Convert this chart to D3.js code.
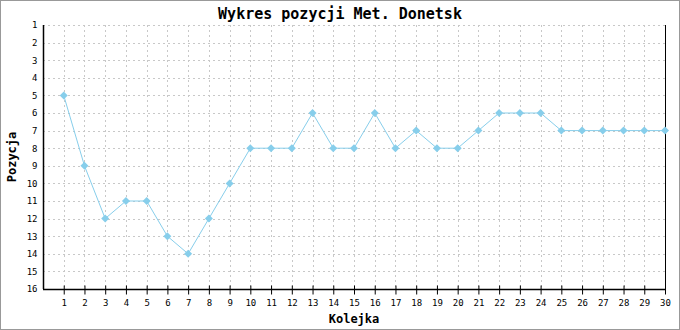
<!DOCTYPE html>
<html>
<head>
<meta charset="utf-8">
<script src="https://cdn.jsdelivr.net/npm/d3@7"></script>
<style>
  body { margin: 0; background: #fff; }
  svg { display: block; }
</style>
</head>
<body>
<svg id="chart" width="680" height="330"></svg>
<script>
// data
var rounds = d3.range(1, 31);
var positions = [5, 9, 12, 11, 11, 13, 14, 12, 10, 8, 8, 8, 6, 8, 8, 6, 8, 7, 8, 8, 7, 6, 6, 6, 7, 7, 7, 7, 7, 7];
var yTicks = d3.range(1, 17);
var titleText = "Wykres pozycji Met. Donetsk";
var xTitle = "Kolejka";
var yTitle = "Pozycja";

var svg = d3.select("#chart");
var W = 680, H = 330;
var font = "'DejaVu Sans Mono', 'Liberation Mono', monospace";
var col = "#87ceeb";

// frame
svg.append("rect")
  .attr("x", 0.5).attr("y", 0.5)
  .attr("width", W - 1).attr("height", H - 1)
  .attr("fill", "#fff").attr("stroke", "#999");

var margin = {top: 25, right: 15, bottom: 41, left: 43};

var x = d3.scaleLinear()
  .domain([0, 30])
  .range([margin.left, W - margin.right]);

var y = d3.scaleLinear()
  .domain([1, 16])
  .range([margin.top, H - margin.bottom]);

// grid
var grid = svg.append("g")
  .attr("stroke", "#c8c8c8")
  .attr("stroke-dasharray", "2,3")
  .attr("shape-rendering", "crispEdges");

grid.selectAll(".hg")
  .data(yTicks.slice(0, -1))
  .enter().append("line")
    .attr("x1", x(0)).attr("x2", x(30))
    .attr("y1", function (d) { return Math.round(y(d)) + 0.5; })
    .attr("y2", function (d) { return Math.round(y(d)) + 0.5; });

grid.selectAll(".vg")
  .data(rounds.slice(0, -1))
  .enter().append("line")
    .attr("y1", y(1)).attr("y2", y(16))
    .attr("x1", function (d) { return Math.round(x(d)) + 0.5; })
    .attr("x2", function (d) { return Math.round(x(d)) + 0.5; });

// x axis (ticks cross the line)
var xAxis = svg.append("g")
  .attr("transform", "translate(0," + (Math.round(y(16)) + 0.5) + ")")
  .call(d3.axisBottom(x).tickValues(rounds).tickSize(0).tickPadding(10));
xAxis.select(".domain").remove();
xAxis.append("line")
  .attr("x1", x(0)).attr("x2", x(30))
  .attr("stroke", "#000").attr("stroke-width", 1.5);
xAxis.selectAll(".tick").append("line")
  .attr("y1", -4).attr("y2", 5)
  .attr("stroke", "#000");
xAxis.selectAll("text")
  .attr("font-family", font)
  .attr("font-size", 9)
  .attr("fill", "#000");

// y axis
var yAxis = svg.append("g")
  .attr("transform", "translate(" + (Math.round(x(0)) + 0.5) + ",0)")
  .call(d3.axisLeft(y).tickValues(yTicks).tickSize(0).tickPadding(6));
yAxis.select(".domain").remove();
yAxis.append("line")
  .attr("y1", y(1)).attr("y2", y(16))
  .attr("stroke", "#000").attr("stroke-width", 1.5);
yAxis.selectAll("text")
  .attr("font-family", font)
  .attr("font-size", 9)
  .attr("fill", "#000");

// right border line
svg.append("line")
  .attr("x1", Math.round(x(30)) + 0.5).attr("x2", Math.round(x(30)) + 0.5)
  .attr("y1", y(1)).attr("y2", y(16))
  .attr("stroke", "#000");

// series line
var line = d3.line()
  .x(function (d, i) { return x(rounds[i]); })
  .y(function (d) { return y(d); });

svg.append("path")
  .datum(positions)
  .attr("d", line)
  .attr("fill", "none")
  .attr("stroke", col)
  .attr("stroke-width", 1);

// diamond markers
svg.selectAll(".dot")
  .data(positions)
  .enter().append("path")
    .attr("class", "dot")
    .attr("transform", function (d, i) { return "translate(" + x(rounds[i]) + "," + y(d) + ")"; })
    .attr("d", "M0,-4L4,0L0,4L-4,0Z")
    .attr("fill", col);

// titles
svg.append("text")
  .attr("x", W / 2).attr("y", 19)
  .attr("text-anchor", "middle")
  .attr("font-family", font)
  .attr("font-weight", "bold")
  .attr("font-size", 15)
  .text(titleText);

svg.append("text")
  .attr("x", (x(0) + x(30)) / 2).attr("y", 323)
  .attr("text-anchor", "middle")
  .attr("font-family", font)
  .attr("font-weight", "bold")
  .attr("font-size", 12)
  .text(xTitle);

svg.append("text")
  .attr("transform", "translate(16," + ((y(1) + y(16)) / 2) + ")rotate(-90)")
  .attr("text-anchor", "middle")
  .attr("font-family", font)
  .attr("font-weight", "bold")
  .attr("font-size", 12)
  .text(yTitle);
</script>
</body>
</html>
